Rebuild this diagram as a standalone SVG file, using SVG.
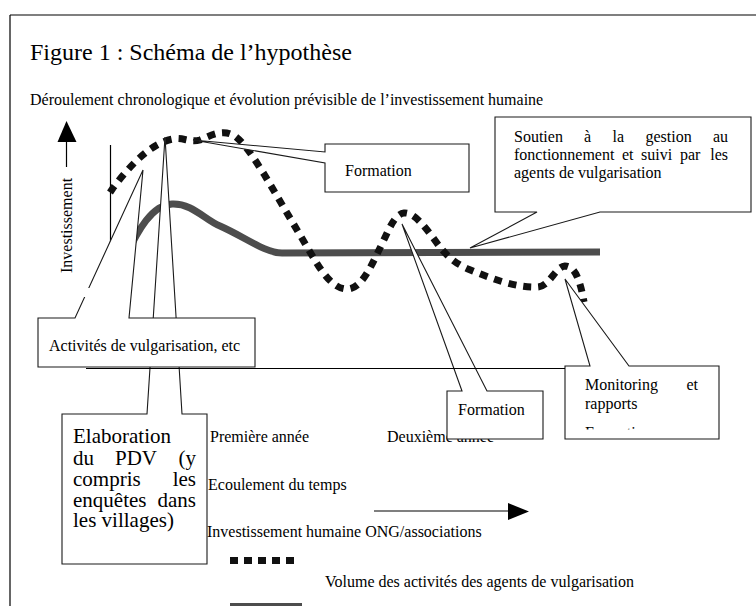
<svg xmlns="http://www.w3.org/2000/svg" width="756" height="606" viewBox="0 0 756 606">
<style>
text { font-family: "Liberation Serif", "Times New Roman", serif; fill: #000; }
.f16 { font-size: 16px; }
.f21 { font-size: 21px; }
.co { fill: #fff; stroke: #1a1a1a; stroke-width: 1.1; stroke-linejoin: miter; }
.ln { stroke: #000; stroke-width: 1.2; fill: none; }
.dot { fill: none; stroke: #111; stroke-width: 7; stroke-dasharray: 8 7; }
.solid { fill: none; stroke: #4d4d4d; stroke-width: 7; stroke-linejoin: round; }
</style>
<defs>
<clipPath id="mclip"><rect x="565" y="366" width="154" height="63.5"/></clipPath>
</defs>
<rect width="756" height="606" fill="#fff"/>
<g id="frame"><path class="ln" d="M10,15 H756 M10,15 V606"/></g>
<g id="title">
<text x="30" y="60" font-size="24">Figure 1 : Schéma de l’hypothèse</text>
<text x="30" y="105" class="f16">Déroulement chronologique et évolution prévisible de l’investissement humaine</text>
</g>
<g id="y-axis">
<polygon points="66.5,121 57.5,142 76.5,142" fill="#000"/>
<line x1="66.5" y1="142" x2="66.5" y2="167" class="ln"/>
<text transform="translate(72,273) rotate(-90)" class="f16">Investissement</text>
<line x1="110.5" y1="145" x2="110.5" y2="318" class="ln"/>
</g>
<g id="connectors">
<path class="solid" d="M126,256 C138,230 152,205 172,204 C192,203 205,220 220,226 C245,237 265,253 282,253 L600,252"/>
<path class="dot" d="M110,192.5 L113,188 C128,168 150,143 173,139 C183,137 190,143 200,140 C212,135 224,128 236,137 C246,145 255,160 264,174 L313,257 C322,272 333,289 347,289 C362,289 372,264 380,248 C388,232 394,214 404,213 C414,212 425,227 434,239 C444,253 452,262 468,269 C490,278 515,288 538,287 C550,286 555,267 565,266 C575,266 580,280 584,302"/>
</g>
<g id="elaboration">
<path class="co" d="M62,414 L147,414 L165,137 L182,414 L207,414 L207,564 L62,564 Z"/>
<text class="f21" x="73" y="443">Elaboration</text>
<text class="f21" x="73" y="465">du</text>
<text class="f21" x="115" y="465">PDV</text>
<text class="f21" x="196" y="465" text-anchor="end">(y</text>
<text class="f21" x="73" y="486">compris</text>
<text class="f21" x="196" y="486" text-anchor="end">les</text>
<text class="f21" x="73" y="507">enquêtes</text>
<text class="f21" x="196" y="507" text-anchor="end">dans</text>
<text class="f21" x="73" y="527">les villages)</text>
</g>
<g id="formation-1">
<path class="co" d="M325,144 L469,144 L469,192 L325,192 L325,163 L193,140 L325,152 Z"/>
<text class="f16" x="345" y="176">Formation</text>
</g>
<g id="soutien">
<path class="co" d="M495,117 L751,117 L751,212 L600,212 L470,248 L537,212 L495,212 Z"/>
<text class="f16" x="514" y="142">Soutien</text>
<text class="f16" x="584" y="142">à</text>
<text class="f16" x="612.5" y="142">la</text>
<text class="f16" x="645.5" y="142">gestion</text>
<text class="f16" x="728" y="142" text-anchor="end">au</text>
<text class="f16" x="514" y="160">fonctionnement</text>
<text class="f16" x="622" y="160">et</text>
<text class="f16" x="641" y="160">suivi</text>
<text class="f16" x="680" y="160">par</text>
<text class="f16" x="728" y="160" text-anchor="end">les</text>
<text class="f16" x="514" y="178">agents de vulgarisation</text>
</g>
<g id="labels-time">
<text class="f16" x="210" y="442">Première année</text>
<text class="f16" x="387" y="442">Deuxième année</text>
</g>
<g id="formation-2">
<path class="co" d="M447,391 L462,391 L402,224 L487,391 L543,391 L543,439 L447,439 Z"/>
<text class="f16" x="458" y="415">Formation</text>
</g>
<g id="monitoring">
<path class="co" d="M565,366 L590,366 L565,279 L629,366 L719,366 L719,439 L565,439 Z"/>
<text class="f16" x="585" y="390">Monitoring</text>
<text class="f16" x="698" y="390" text-anchor="end">et</text>
<text class="f16" x="585" y="409">rapports</text>
<text class="f16" x="585" y="438" clip-path="url(#mclip)">Formation</text>
</g>
<g id="activites">
<path class="co" d="M38,318 L75,318 L143,170 L129,318 L255,318 L255,367 L38,367 Z"/>
<rect x="80" y="288" width="12" height="9" fill="#fff"/>
<text class="f16" x="49" y="351">Activités de vulgarisation, etc</text>
</g>
<g id="x-axis"><line x1="86" y1="368.5" x2="565" y2="368.5" class="ln"/></g>
<g id="legend">
<text class="f16" x="208" y="490">Ecoulement du temps</text>
<line x1="374" y1="511" x2="510" y2="511" class="ln"/>
<polygon points="508,503 529,511.5 508,520" fill="#000"/>
<text class="f16" x="207" y="537">Investissement humaine ONG/associations</text>
<line x1="230" y1="560.5" x2="300" y2="560.5" stroke="#111" stroke-width="7" stroke-dasharray="8 6"/>
<text class="f16" x="325" y="587">Volume des activités des agents de vulgarisation</text>
<rect x="230" y="603" width="72" height="4" fill="#4d4d4d"/>
</g>
</svg>
